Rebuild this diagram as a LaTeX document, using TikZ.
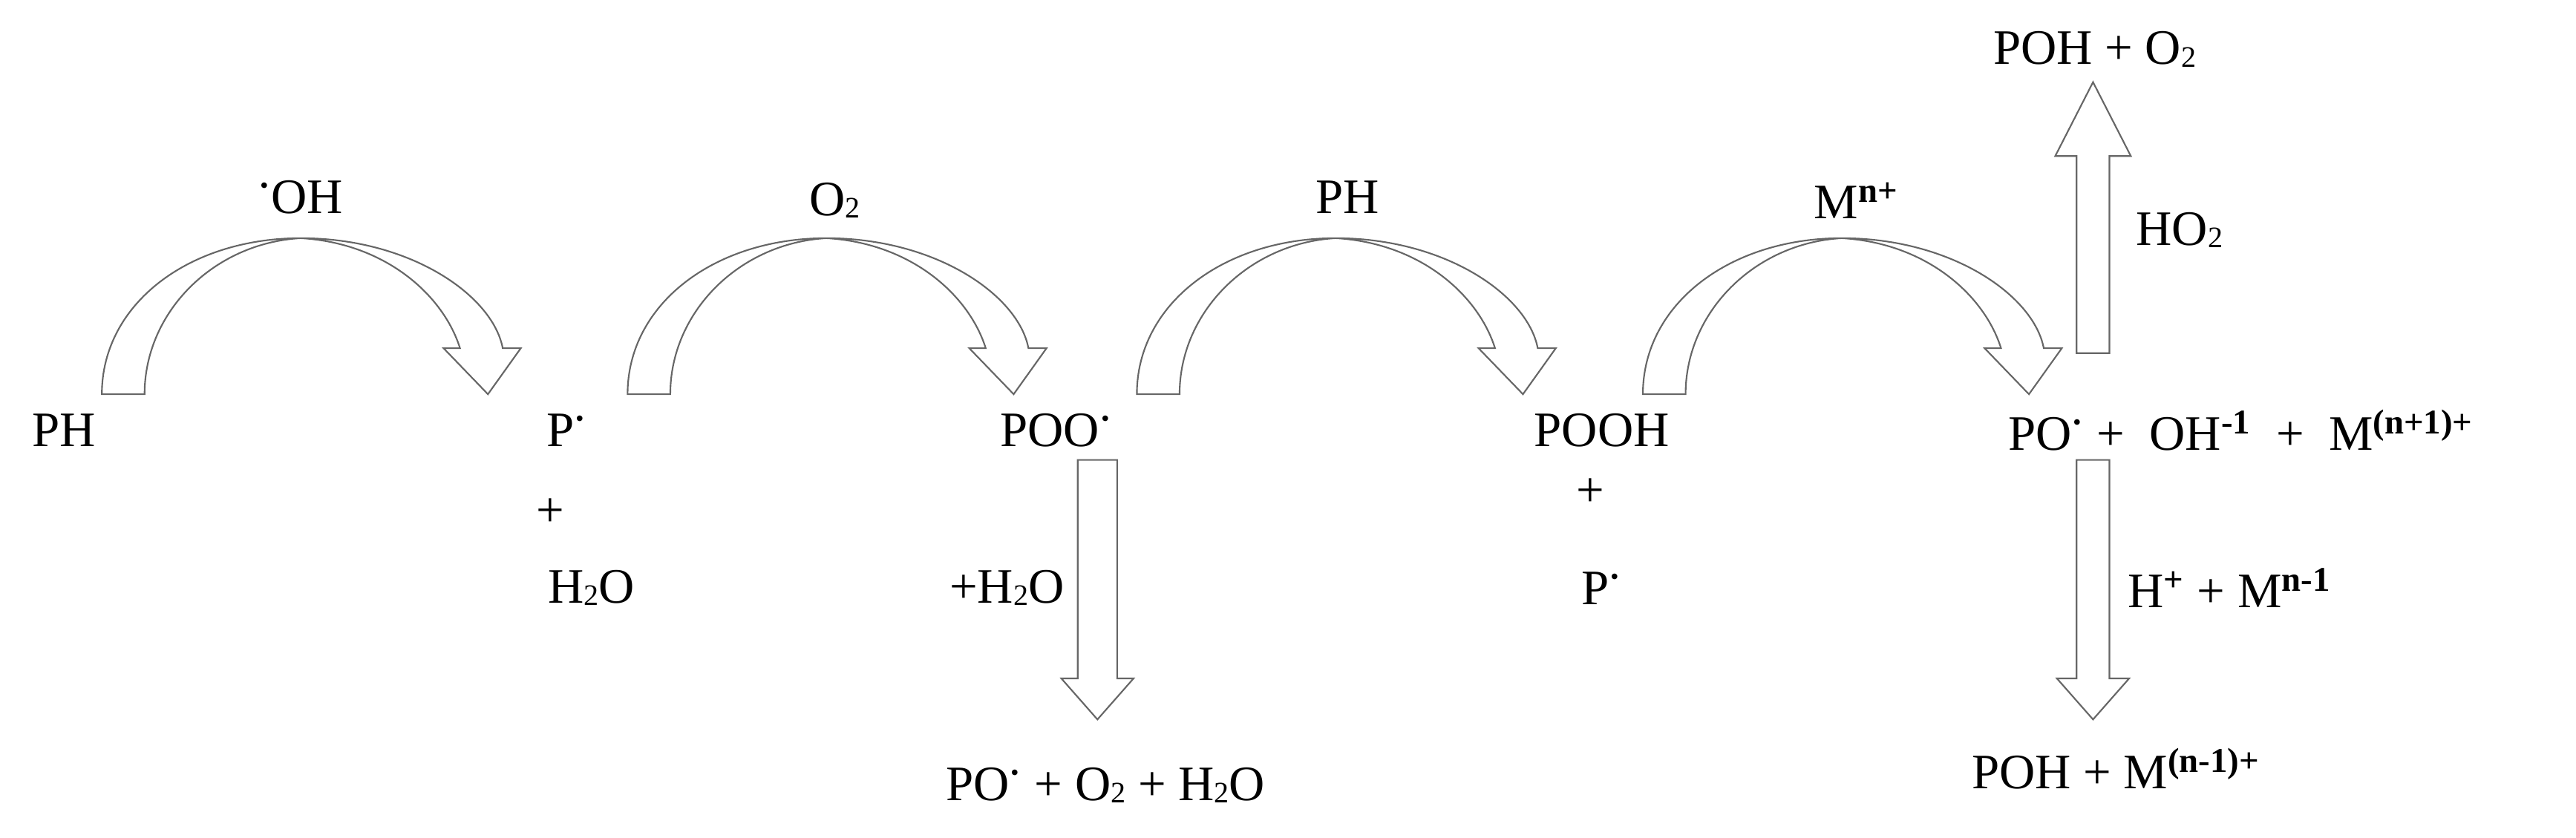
\documentclass[tikz,border=0pt]{standalone}
\usepackage{fontspec}
\setmainfont{Liberation Serif}
\newcommand{\rdot}{\textsuperscript{\textbf{·}}}
\newcommand{\mysub}[1]{\raisebox{-0.1ex}{\scalebox{0.6}{#1}}}
\newcommand{\mysup}[1]{\textsuperscript{\textbf{#1}}}
\begin{document}
\begin{tikzpicture}[x=0.02213cm,y=-0.02213cm,
  txt/.style={inner sep=0pt,font=\fontsize{19}{22}\selectfont},
  barrow/.style={draw=black!60,line width=0.6pt,fill=white,line join=miter}]
\useasboundingbox (0,0) rectangle (1568,510);
% curved arrows
\foreach \o in {0,320,630,938}{
\draw[barrow,shift={(\o,0)}] (62,240) .. controls (62,185) and (115,145) .. (183,145)
  .. controls (250,145) and (300,180) .. (306,212) -- (317,212) -- (297,240) -- (270,212) -- (280,212)
  .. controls (270,180) and (235,148) .. (183,145)
  .. controls (130,148) and (88,190) .. (88,240) -- cycle;
}
% straight arrows
\draw[barrow] (656,280) -- (680,280) -- (680,413) -- (690,413) -- (668,438) -- (646,413) -- (656,413) -- cycle;
\draw[barrow] (1264,280) -- (1284,280) -- (1284,413) -- (1296,413) -- (1274,438) -- (1252,413) -- (1264,413) -- cycle;
\draw[barrow] (1264,215) -- (1284,215) -- (1284,95) -- (1297,95) -- (1274,50) -- (1251,95) -- (1264,95) -- cycle;
% texts
\node[txt] (ph) at (39,262) {PH};
\node[txt] (p1) at (345,262) {P\rdot};
\node[txt] (pl1) at (335,312) {+};
\node[txt] (h2o) at (360,358) {H\mysub{2}O};
\node[txt] (poo) at (643,262) {POO\rdot};
\node[txt] (pooh) at (975,262) {POOH};
\node[txt] (pl2) at (968,300) {+};
\node[txt] (p2) at (975,358) {P\rdot};
\node[txt,anchor=west] (po) at (1222,262) {PO\rdot\ +\ \ OH\mysup{-1}\ \ +\ \ M\mysup{(n+1)+}};
\node[txt] (top) at (1275,30) {POH + O\mysub{2}};
\node[txt,anchor=west] (ho2) at (1300,140) {HO\mysub{2}};
\node[txt,anchor=east] (ph2o) at (648,358) {+H\mysub{2}O};
\node[txt,anchor=west] (hm) at (1295,358) {H\mysup{+} + M\mysup{n-1}};
\node[txt] (bot1) at (673,478) {PO\rdot\ + O\mysub{2} + H\mysub{2}O};
\node[txt] (bot2) at (1288,468) {POH + M\mysup{(n-1)+}};
\node[txt] (l1) at (183,120) {\rdot OH};
\node[txt] (l2) at (508,122) {O\mysub{2}};
\node[txt] (l3) at (820,120) {PH};
\node[txt] (l4) at (1130,122) {M\mysup{n+}};
\end{tikzpicture}
\end{document}
